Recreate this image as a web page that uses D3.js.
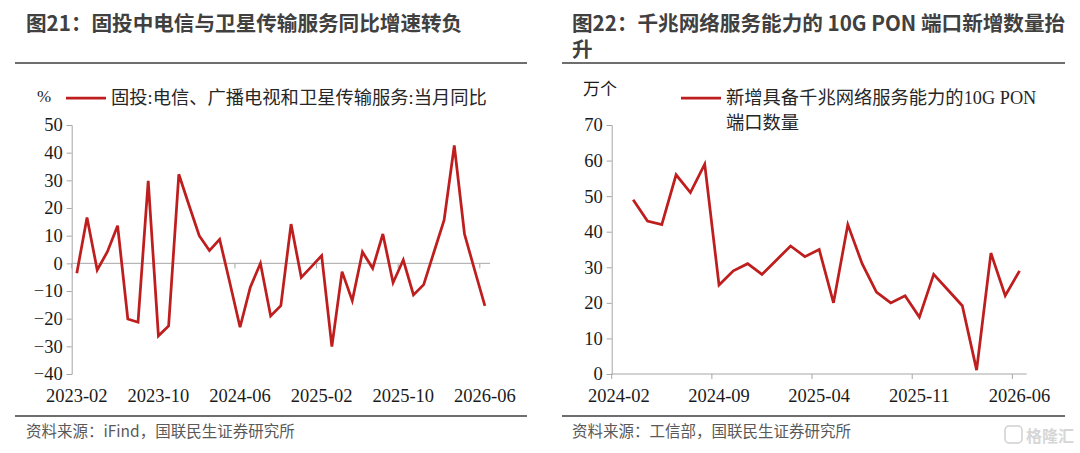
<!DOCTYPE html>
<html>
<head>
<meta charset="utf-8">
<script src="https://cdn.jsdelivr.net/npm/d3@7"></script>
<style>
  body { margin: 0; background: #fff; }
  svg { display: block; }
</style>
</head>
<body>
<div id="chart"></div>
<script>
// left chart: 固投 当月同比 (%)
const leftMonths = [
    '2023-02', '2023-03', '2023-04', '2023-05', '2023-06', '2023-07', '2023-08', '2023-09',
    '2023-10', '2023-11', '2023-12', '2024-01', '2024-02', '2024-03', '2024-04', '2024-05',
    '2024-06', '2024-07', '2024-08', '2024-09', '2024-10', '2024-11', '2024-12', '2025-01',
    '2025-02', '2025-03', '2025-04', '2025-05', '2025-06', '2025-07', '2025-08', '2025-09',
    '2025-10', '2025-11', '2025-12', '2026-01', '2026-02', '2026-03', '2026-04', '2026-05',
    '2026-06'
];
const leftValues = [
    -3.6, 16.6, -2.4, 4.2, 13.6, -20.1, -21.3, 29.8,
    -26.2, -22.6, 32.2, 21.0, 10.0, 4.6, 8.7, -7.0,
    -23.1, -8.7, 0.0, -19.0, -15.3, 14.2, -5.1, -1.2,
    2.8, -30.1, -3.0, -13.5, 4.1, -1.8, 10.6, -7.0,
    1.2, -11.4, -7.7, 4.0, 15.6, 42.6, 10.6, -2.5,
    -15.4
];
const leftTicks = [50, 40, 30, 20, 10, 0, -10, -20, -30, -40];
const leftLabels = ['2023-02', '2023-10', '2024-06', '2025-02', '2025-10', '2026-06'];

// right chart: 10G PON 端口新增 (万个)
const rightMonths = [
    '2024-02', '2024-03', '2024-04', '2024-05', '2024-06', '2024-07', '2024-08', '2024-09',
    '2024-10', '2024-11', '2024-12', '2025-01', '2025-02', '2025-03', '2025-04', '2025-05',
    '2025-06', '2025-07', '2025-08', '2025-09', '2025-10', '2025-11', '2025-12', '2026-01',
    '2026-02', '2026-03', '2026-04', '2026-05', '2026-06'
];
const rightValues = [
    null, 49, 43, 42, 56, 51, 59, 25,
    29, 31, 28, 32, 36, 33, 35, 20,
    42, 31, 23, 20, 22, 16, 28, 23.6,
    19.2, 1.1, 34, 22, 29
];
const rightTicks = [70, 60, 50, 40, 30, 20, 10, 0];
const rightLabels = ['2024-02', '2024-09', '2025-04', '2025-11', '2026-06'];

const width = 1080;
const height = 453;
const red = '#BE1E1E';
const axisColor = '#a6a6a6';
const serif = '"Liberation Serif", "Times New Roman", "Noto Sans CJK SC", serif';
const sans = '"Noto Sans CJK SC", "Noto Sans", sans-serif';

const svg = d3.select('#chart')
    .append('svg')
    .attr('width', width)
    .attr('height', height);

const drawPanel = p => {
    const g = svg.append('g');

    // title lines and rules
    g.append('g')
        .selectAll('text')
        .data(p.title)
        .join('text')
        .attr('x', p.left)
        .attr('y', (d, i) => 31 + i * 26)
        .attr('font-family', sans)
        .attr('font-weight', 'bold')
        .attr('font-size', '20.6px')
        .attr('fill', '#404040')
        .text(d => d);

    g.append('line')
        .attr('x1', p.ruleFrom).attr('x2', p.ruleTo)
        .attr('y1', 63).attr('y2', 63)
        .attr('stroke', '#6e6e6e').attr('stroke-width', 2);
    g.append('line')
        .attr('x1', p.ruleFrom).attr('x2', p.ruleTo)
        .attr('y1', 416).attr('y2', 416)
        .attr('stroke', '#6e6e6e').attr('stroke-width', 2);

    g.append('text')
        .attr('x', p.left)
        .attr('y', 437)
        .attr('font-family', sans)
        .attr('font-size', '15.5px')
        .attr('fill', '#595959')
        .text(p.source);

    const x = d3.scaleBand()
        .domain(p.months)
        .range([p.x0, p.x1]);

    const y = d3.scaleLinear()
        .domain(p.yDomain)
        .range([374, 125]);

    // y axis
    const yAxis = d3.axisLeft(y)
        .tickValues(p.yTicks)
        .tickSize(5)
        .tickPadding(4);
    g.append('g')
        .attr('transform', `translate(${p.x0},0)`)
        .call(yAxis)
        .call(a => a.select('.domain').attr('stroke', axisColor))
        .call(a => a.selectAll('.tick line').attr('stroke', axisColor))
        .call(a => a.selectAll('.tick text')
            .attr('font-family', serif)
            .attr('font-size', '18.5px')
            .attr('fill', '#1a1a1a'));

    // x axis line with ticks at category boundaries
    const baseY = y(p.baseValue);
    g.append('line')
        .attr('x1', p.x0).attr('x2', p.x1)
        .attr('y1', baseY).attr('y2', baseY)
        .attr('stroke', axisColor).attr('stroke-width', 1);

    g.append('g')
        .selectAll('line')
        .data(p.labels)
        .join('line')
        .attr('x1', d => x(d)).attr('x2', d => x(d))
        .attr('y1', baseY).attr('y2', baseY + 5)
        .attr('stroke', axisColor);

    g.append('g')
        .selectAll('text')
        .data(p.labels)
        .join('text')
        .attr('x', d => x(d) + x.bandwidth() / 2)
        .attr('y', 402)
        .attr('text-anchor', 'middle')
        .attr('font-family', serif)
        .attr('font-size', '18.5px')
        .attr('fill', '#1a1a1a')
        .text(d => d);

    // unit
    g.append('text')
        .attr('x', p.unitX)
        .attr('y', p.unitY)
        .attr('font-family', serif)
        .attr('font-size', '17px')
        .attr('fill', '#1a1a1a')
        .text(p.unit);

    // legend
    g.append('line')
        .attr('x1', p.legendX).attr('x2', p.legendX + 40)
        .attr('y1', 98).attr('y2', 98)
        .attr('stroke', red).attr('stroke-width', 2.75);
    const lt = g.append('text')
        .attr('y', 104)
        .attr('font-family', serif)
        .attr('font-size', '18.3px')
        .attr('fill', '#262626');
    p.legend.forEach((t, i) => lt.append('tspan')
        .attr('x', p.legendX + 45)
        .attr('dy', i === 0 ? 0 : 25)
        .text(t));

    // series
    const line = d3.line()
        .defined(d => d[1] !== null)
        .x(d => x(d[0]) + x.bandwidth() / 2)
        .y(d => y(d[1]));

    g.append('path')
        .datum(d3.zip(p.months, p.values))
        .attr('fill', 'none')
        .attr('stroke', red)
        .attr('stroke-width', 2.75)
        .attr('stroke-linejoin', 'miter')
        .attr('d', line);
};

drawPanel({
    title: ['图21：固投中电信与卫星传输服务同比增速转负'],
    source: '资料来源：iFind，国联民生证券研究所',
    left: 26, ruleFrom: 15, ruleTo: 527,
    months: leftMonths, values: leftValues,
    x0: 71.7, x1: 490,
    yDomain: [-40, 50], yTicks: leftTicks, baseValue: 0,
    labels: leftLabels,
    unit: '%', unitX: 37, unitY: 102,
    legend: ['固投:电信、广播电视和卫星传输服务:当月同比'], legendX: 66
});

drawPanel({
    title: ['图22：千兆网络服务能力的 10G PON 端口新增数量抬', '升'],
    source: '资料来源：工信部，国联民生证券研究所',
    left: 572, ruleFrom: 562, ruleTo: 1065,
    months: rightMonths, values: rightValues,
    x0: 611.7, x1: 1026.7,
    yDomain: [0, 70], yTicks: rightTicks, baseValue: 0,
    labels: rightLabels,
    unit: '万个', unitX: 583, unitY: 95,
    legend: ['新增具备千兆网络服务能力的10G PON', '端口数量'], legendX: 681
});

// watermark
const wm = svg.append('g').attr('fill', 'none').attr('stroke', '#cfcfcf').attr('stroke-width', 1.5);
wm.append('rect')
    .attr('x', 1005).attr('y', 426).attr('width', 17).attr('height', 17).attr('rx', 4);
svg.append('text')
    .attr('x', 1026).attr('y', 442)
    .attr('font-family', sans)
    .attr('font-size', '16px')
    .attr('font-weight', 'bold')
    .attr('fill', '#d6d6d6')
    .text('格隆汇');
</script>
</body>
</html>
